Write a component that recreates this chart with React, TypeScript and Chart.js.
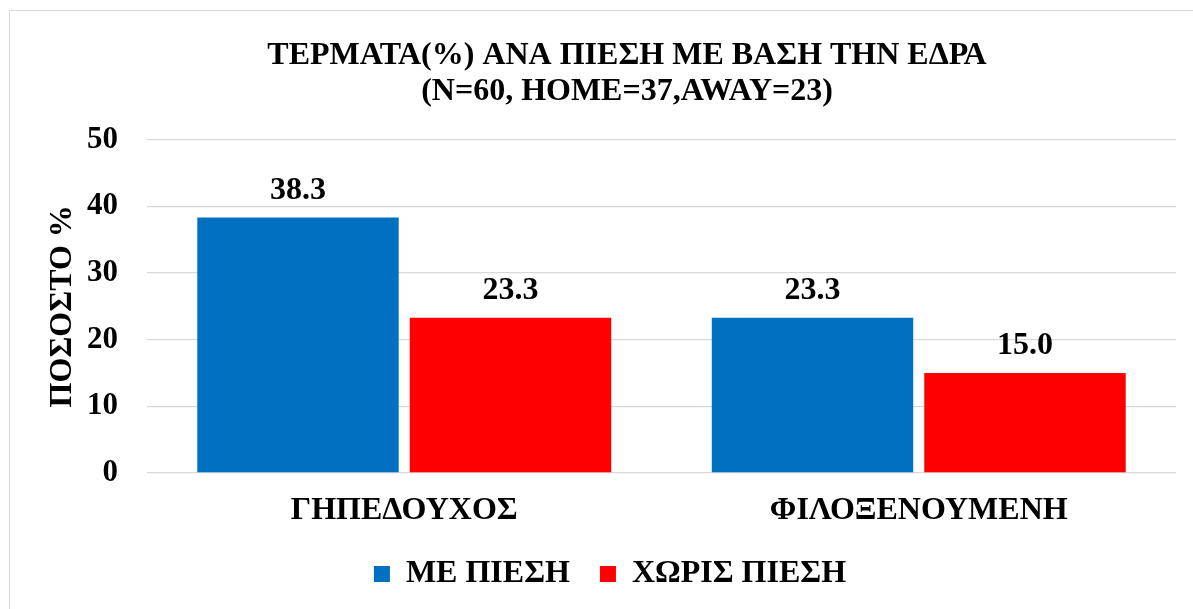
import React, { useEffect, useRef } from "react";
import { Chart, registerables } from "chart.js";

Chart.register(...registerables);

const categories = ["ΓΗΠΕΔΟΥΧΟΣ", "ΦΙΛΟΞΕΝΟΥΜΕΝΗ"];
const seriesNames = ["ΜΕ ΠΙΕΣΗ", "ΧΩΡΙΣ ΠΙΕΣΗ"];
const withPressure = [38.3, 23.3];
const withoutPressure = [23.3, 15.0];
const yMin = 0;
const yMax = 50;
const yStep = 10;
const titleLines = ["ΤΕΡΜΑΤΑ(%) ΑΝΑ ΠΙΕΣΗ ΜΕ ΒΑΣΗ ΤΗΝ ΕΔΡΑ", "(N=60, HOME=37,AWAY=23)"];
const yAxisTitle = "ΠΟΣΟΣΤΟ %";

const FONT = "'Liberation Serif', 'Times New Roman', serif";
const BLUE = "#0070C0";
const RED = "#FF0000";
const GRID = "#d9d9d9";

const W = 1175;
const H = 600;

export default function App() {
  const ref = useRef<HTMLCanvasElement | null>(null);

  useEffect(() => {
    if (!ref.current) return;

    const shiftTitle = {
      id: "shiftTitle",
      afterLayout(chart: any) {
        const t = chart.titleBlock;
        if (t) {
          t.left += 17;
          t.right += 17;
        }
      },
    };

    const dataLabels = {
      id: "dataLabels",
      afterDatasetsDraw(chart: any) {
        const ctx = chart.ctx;
        ctx.save();
        ctx.font = `bold 32px ${FONT}`;
        ctx.fillStyle = "#000";
        ctx.textAlign = "center";
        ctx.textBaseline = "alphabetic";
        chart.data.datasets.forEach((ds: any, di: number) => {
          const meta = chart.getDatasetMeta(di);
          meta.data.forEach((bar: any, i: number) => {
            const v = ds.data[i] as number;
            ctx.fillText(v.toFixed(1), bar.x, bar.y - 19);
          });
        });
        ctx.restore();
      },
    };

    const chart = new Chart(ref.current, {
      type: "bar",
      data: {
        labels: categories,
        datasets: [
          {
            label: seriesNames[0],
            data: withPressure,
            backgroundColor: BLUE,
            borderWidth: 0,
            barPercentage: 0.948,
            categoryPercentage: 0.826,
          },
          {
            label: seriesNames[1],
            data: withoutPressure,
            backgroundColor: RED,
            borderWidth: 0,
            barPercentage: 0.948,
            categoryPercentage: 0.826,
          },
        ],
      },
      options: {
        responsive: false,
        animation: false,
        layout: { padding: { left: 34, right: 9, top: 0, bottom: 11 } },
        plugins: {
          title: {
            display: true,
            text: titleLines,
            color: "#000",
            font: { family: FONT, size: 32, weight: "bold", lineHeight: 1.15 },
            padding: { top: 26, bottom: 29 },
          },
          legend: {
            position: "bottom",
            labels: {
              color: "#000",
              font: { family: FONT, size: 32, weight: "bold" },
              boxWidth: 16,
              boxHeight: 16,
              padding: 30,
            },
          },
          tooltip: { enabled: false },
        },
        scales: {
          x: {
            grid: { display: false, drawTicks: false },
            border: { display: false },
            afterFit(scale: any) {
              scale.height = 55;
            },
            ticks: {
              color: "#000",
              padding: 19,
              font: { family: FONT, size: 32, weight: "bold", lineHeight: 1.15 },
            },
          },
          y: {
            min: yMin,
            max: yMax,
            afterFit(scale: any) {
              scale.width = 103;
            },
            ticks: {
              stepSize: yStep,
              color: "#000",
              padding: 29,
              font: { family: FONT, size: 31, weight: "bold", lineHeight: 1.15 },
            },
            grid: { color: GRID, lineWidth: 1.3, drawTicks: false },
            border: { display: false },
            title: {
              display: true,
              text: yAxisTitle,
              color: "#000",
              font: { family: FONT, size: 32, weight: "bold", lineHeight: 1.15 },
              padding: { top: 0, bottom: 8 },
            },
          },
        },
      },
      plugins: [shiftTitle, dataLabels],
    });

    return () => chart.destroy();
  }, []);

  return (
    <div
      style={{
        position: "fixed",
        left: 0,
        top: 0,
        width: 1193,
        height: 609,
        overflow: "hidden",
        background: "#fff",
      }}
    >
      <div
        style={{
          position: "absolute",
          left: 9,
          top: 10,
          width: 1400,
          height: 900,
          border: `1px solid ${GRID}`,
        }}
      />
      <canvas
        ref={ref}
        width={W}
        height={H}
        style={{ position: "absolute", left: 10, top: 11, width: W, height: H }}
      />
    </div>
  );
}
